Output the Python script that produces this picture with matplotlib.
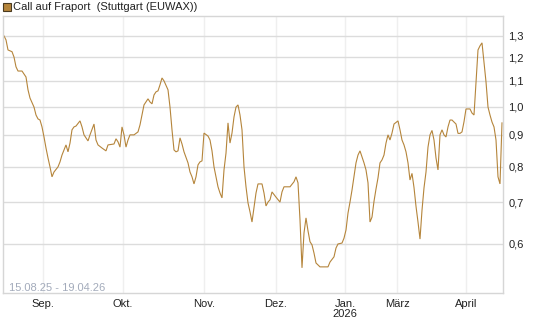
import matplotlib
matplotlib.use("Agg")
import matplotlib.pyplot as plt
from matplotlib.patches import Rectangle
from matplotlib.ticker import FixedLocator, FuncFormatter, NullLocator

# --- Data (trading session index -> price in EUR) ---
session = [
    0, 1, 2, 4, 5, 6, 7, 9, 11, 12, 13, 15, 16, 17, 18, 19, 20, 21, 22, 23,
    24, 25, 27, 28, 29, 31, 32, 33, 34, 35, 36, 38, 39, 40, 42, 43, 45, 46, 47, 49,
    51, 52, 55, 56, 57, 58, 59, 60, 61, 62, 63, 65, 67, 68, 69, 70, 72, 73, 74, 75,
    76, 77, 78, 79, 80, 82, 83, 84, 85, 86, 87, 88, 89, 90, 92, 93, 94, 95, 96, 97,
    98, 99, 100, 102, 103, 104, 105, 107, 108, 109, 110, 111, 112, 113, 114, 115, 116, 117, 118, 119,
    120, 121, 122, 123, 124, 125, 126, 127, 129, 130, 131, 132, 133, 134, 136, 138, 139, 140, 143, 145,
    146, 147, 148, 149, 150, 151, 152, 153, 154, 155, 156, 158, 162, 163, 165, 166, 167, 169, 170, 171,
    172, 173, 174, 175, 176, 177, 178, 179, 180, 181, 182, 183, 184, 185, 186, 187, 188, 189, 190, 191,
    192, 193, 194, 195, 197, 198, 199, 200, 201, 202, 203, 204, 205, 206, 207, 208, 209, 210, 211, 212,
    213, 214, 215, 216, 217, 218, 219, 220, 221, 222, 223, 224, 225, 226, 227, 228, 229, 230, 231, 232,
    233, 234, 235, 236, 237, 238, 239, 240, 241, 242, 243, 244, 245, 246, 247, 248, 249,
]
price = [
    1.300, 1.281, 1.234, 1.226, 1.202, 1.159, 1.141, 1.141, 1.116, 1.064, 1.032, 0.998, 0.969, 0.955, 0.951, 0.927, 0.893, 0.857, 0.826, 0.799,
    0.770, 0.784, 0.799, 0.814, 0.835, 0.867, 0.845, 0.873, 0.917, 0.927, 0.930, 0.948, 0.927, 0.900, 0.880, 0.900, 0.937, 0.883, 0.867, 0.857,
    0.848, 0.867, 0.870, 0.887, 0.877, 0.860, 0.927, 0.900, 0.860, 0.883, 0.900, 0.900, 0.910, 0.934, 0.969, 1.006, 1.029, 1.017, 1.010, 1.044,
    1.056, 1.060, 1.084, 1.112, 1.100, 1.064, 0.998, 0.917, 0.851, 0.845, 0.848, 0.890, 0.870, 0.845, 0.811, 0.784, 0.770, 0.750, 0.770, 0.805,
    0.814, 0.817, 0.906, 0.896, 0.883, 0.848, 0.799, 0.742, 0.725, 0.712, 0.790, 0.841, 0.941, 0.873, 0.906, 0.962, 0.998, 1.006, 0.969, 0.917,
    0.799, 0.742, 0.699, 0.676, 0.651, 0.688, 0.725, 0.750, 0.750, 0.725, 0.691, 0.701, 0.707, 0.728, 0.714, 0.701, 0.728, 0.742, 0.742, 0.756,
    0.770, 0.753, 0.656, 0.549, 0.625, 0.661, 0.630, 0.605, 0.598, 0.580, 0.559, 0.551, 0.551, 0.561, 0.572, 0.591, 0.600, 0.602, 0.613, 0.632,
    0.673, 0.701, 0.733, 0.770, 0.811, 0.835, 0.848, 0.829, 0.811, 0.790, 0.753, 0.651, 0.663, 0.703, 0.736, 0.767, 0.811, 0.820, 0.835, 0.873,
    0.900, 0.883, 0.906, 0.937, 0.948, 0.917, 0.883, 0.867, 0.845, 0.811, 0.761, 0.780, 0.740, 0.690, 0.651, 0.611, 0.680, 0.739, 0.784, 0.860,
    0.900, 0.915, 0.883, 0.826, 0.790, 0.900, 0.917, 0.900, 0.893, 0.927, 0.951, 0.951, 0.944, 0.937, 0.905, 0.905, 0.910, 0.945, 0.991, 0.991,
    0.991, 0.976, 0.969, 1.096, 1.234, 1.253, 1.267, 1.176, 1.096, 0.998, 0.969, 0.944, 0.927, 0.883, 0.770, 0.750, 0.941,
]

month_ticks = [19.5, 59.5, 100, 136, 170.5, 196.5, 231]
month_labels = ["Sep.", "Okt.", "Nov.", "Dez.", "Jan.\n2026", "März", "April"]
price_ticks = [0.6, 0.7, 0.8, 0.9, 1.0, 1.1, 1.2, 1.3]

TITLE = "Call auf Fraport  (Stuttgart (EUWAX))"
RANGE_TEXT = "15.08.25 - 19.04.26"

# --- Style ---
LINE_COLOR = "#b5853b"
FONT = "Liberation Sans"
plt.rcParams["font.family"] = [FONT, "DejaVu Sans"]

fig = plt.figure(figsize=(5.45, 3.27), dpi=100)
ax = fig.add_axes([3 / 545, 34 / 327, 500 / 545, 277 / 327])

ax.plot(session, price, color=LINE_COLOR, lw=0.8, solid_joinstyle="miter")

ax.set_yscale("log")
ax.set_ylim(0.5, 1.40)
ax.set_xlim(-0.5, 249.5)

ax.yaxis.set_major_locator(FixedLocator(price_ticks))
ax.yaxis.set_minor_locator(NullLocator())
ax.yaxis.set_major_formatter(FuncFormatter(lambda v, _: f"{v:.1f}".replace(".", ",")))
ax.yaxis.tick_right()
ax.tick_params(axis="y", length=0, pad=4, labelsize=8, labelcolor="#222222")

ax.set_xticks(month_ticks)
ax.set_xticklabels(month_labels, linespacing=1.05)
ax.tick_params(axis="x", length=0, pad=4, labelsize=8, labelcolor="#222222")

ax.grid(axis="y", color="#dcdcdc", lw=1.0)
ax.grid(axis="x", color="#efefef", lw=1.0)
ax.set_axisbelow(True)
for side in ["left", "right", "top", "bottom"]:
    ax.spines[side].set_color("#d6d6d6")
    ax.spines[side].set_linewidth(1.0)

ax.text(6 / 500, 5 / 277, RANGE_TEXT, transform=ax.transAxes, fontsize=8,
        color="#a3abbb", ha="left", va="center")

# legend-like header
fig.add_artist(Rectangle((3 / 545, 1 - 11 / 327), 8 / 545, 8 / 327,
                         transform=fig.transFigure, facecolor=LINE_COLOR,
                         edgecolor="#4a3a20", lw=0.8))
fig.text(13 / 545, 1 - 7 / 327, TITLE, fontsize=8, color="#222222",
         ha="left", va="center")

fig.savefig("out.png", dpi=100)
